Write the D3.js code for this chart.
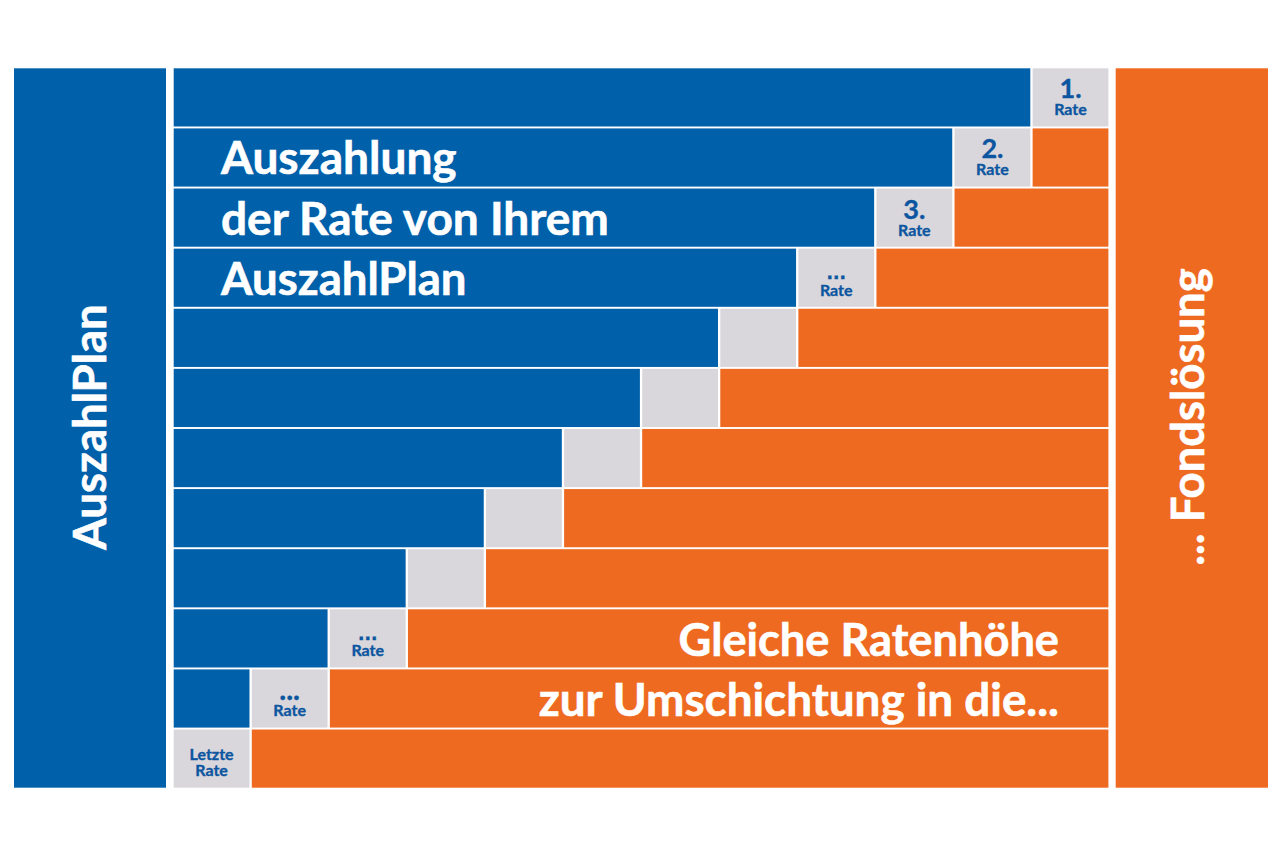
<!DOCTYPE html>
<html><head><meta charset="utf-8">
<script src="https://cdn.jsdelivr.net/npm/d3@7"></script>
<style>html,body{margin:0;padding:0;background:#fff}svg{display:block}text{font-family:"Lato",sans-serif;font-weight:700}</style>
</head><body><svg id="c" width="1280" height="854"></svg>
<script>
const rows = ["1","2","3","4","5","6","7","8","9","10","11","12"];
const blueUnits = [11,10,9,8,7,6,5,4,3,2,1,0];
const grayUnits = [1,1,1,1,1,1,1,1,1,1,1,1];
const orangeUnits = [0,1,2,3,4,5,6,7,8,9,10,11];
const grayHead = ["1.","2.","3.","...","","","","","","...","...","Letzte"];
const grayFoot = ["Rate","Rate","Rate","Rate","","","","","","Rate","Rate","Rate"];
const squareDotRows = ["4","10"];
const blueLines = ["Auszahlung","der Rate von Ihrem","AuszahlPlan"];
const orangeLines = ["Gleiche Ratenhöhe","zur Umschichtung in die..."];
const sideLeft = "AuszahlPlan";
const sideRight = "... Fondslösung";
const BLUE="#0060aa", ORANGE="#ee6a20", GRAY="#d9d7db", INK="#0c55a0";

const svg=d3.select("#c");
const x=d3.scaleLinear().domain([0,12]).range([171.4,1108.4]);
const y=d3.scaleBand().domain(rows).range([68.3,787.7]).paddingInner(0.032).paddingOuter(0);
const gap=2.3, left=173.7;

svg.append("rect").attr("x",14).attr("y",68.3).attr("width",152).attr("height",719.4).attr("fill",BLUE);
svg.append("rect").attr("x",1115.7).attr("y",68.3).attr("width",152.3).attr("height",719.4).attr("fill",ORANGE);

const segs=[];
rows.forEach((r,i)=>{
  const a=blueUnits[i],b=a+grayUnits[i],c=b+orangeUnits[i];
  if(a>0)segs.push({r,x0:left,x1:x(a),fill:BLUE});
  segs.push({r,x0:a>0?x(a)+gap:left,x1:x(b),fill:GRAY});
  if(orangeUnits[i]>0)segs.push({r,x0:x(b)+gap,x1:x(c),fill:ORANGE});
});
svg.append("g").selectAll("rect").data(segs).join("rect")
  .attr("x",d=>d.x0).attr("y",d=>y(d.r)).attr("width",d=>d.x1-d.x0).attr("height",y.bandwidth()).attr("fill",d=>d.fill);

const lab=svg.append("g").attr("fill",INK).attr("stroke",INK).attr("stroke-width",0.35).attr("text-anchor","middle");
rows.forEach((r,i)=>{
  if(!grayFoot[i])return;
  const a=blueUnits[i];
  const cx=((a>0?x(a)+gap:left)+x(a+1))/2;
  const top=y(r);
  const head=grayHead[i];
  if(head==="Letzte"){
    lab.append("text").attr("x",cx).attr("y",top+30).attr("font-size",16).text(head);
    lab.append("text").attr("x",cx).attr("y",top+46).attr("font-size",16).text(grayFoot[i]);
  }else{
    const t=lab.append("text").attr("x",cx).text(head);
    if(head==="..."){
      if(squareDotRows.includes(r)) t.style("font-family","'DejaVu Sans'").attr("y",top+30.5).attr("font-size",17);
      else t.attr("y",top+31).attr("font-size",29);
    } else t.attr("y",top+30).attr("font-size",27);
    lab.append("text").attr("x",cx).attr("y",top+47).attr("font-size",16).text(grayFoot[i]);
  }
});

const big=svg.append("g").attr("fill","#fff").attr("stroke","#fff").attr("stroke-width",0.6);
blueLines.forEach((t,i)=>big.append("text").attr("x",221).attr("y",y(rows[i+1])+46).attr("font-size",i===2?45.5:46).text(t));
orangeLines.forEach((t,i)=>big.append("text").attr("x",1059).attr("y",y(rows[i+9])+47).attr("text-anchor","end").attr("font-size",i===0?45.2:45.8).text(t));
big.append("text").attr("transform","translate(106,427) rotate(-90)").attr("text-anchor","middle").attr("font-size",45.5).text(sideLeft);
big.append("text").attr("transform","translate(1204,417) rotate(-90)").attr("text-anchor","middle").attr("font-size",45.5).text(sideRight);
</script></body></html>
